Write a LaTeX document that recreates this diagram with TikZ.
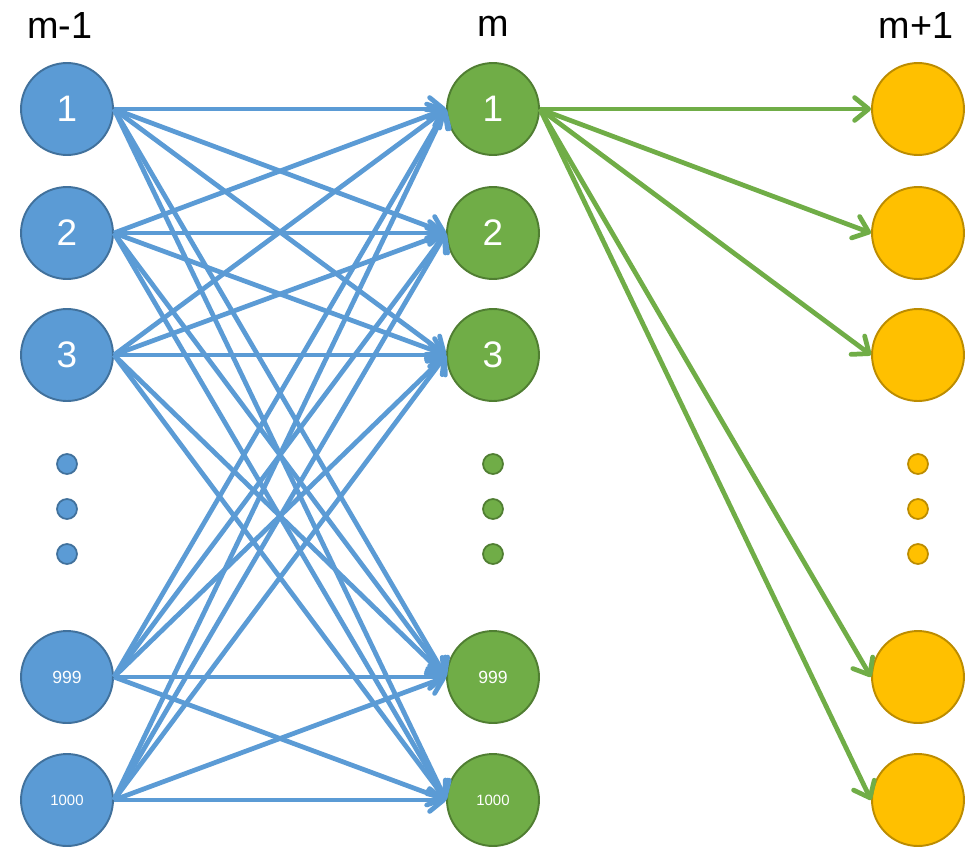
\documentclass[tikz,border=0pt]{standalone}
\usepackage{fontspec}
\setmainfont{Liberation Sans}
\usetikzlibrary{arrows.meta}

\definecolor{blueFill}{HTML}{5B9BD5}
\definecolor{blueLine}{HTML}{41719C}
\definecolor{greenFill}{HTML}{70AD47}
\definecolor{greenLine}{HTML}{507E32}
\definecolor{goldFill}{HTML}{FFC000}
\definecolor{goldLine}{HTML}{BC8C00}

\tikzset{
  neuron/.style={circle, inner sep=0pt, minimum size=1.84cm, line width=1.1pt, text=white, font=\fontsize{21}{24}\selectfont},
  bluen/.style={neuron, draw=blueLine, fill=blueFill},
  greenn/.style={neuron, draw=greenLine, fill=greenFill},
  goldn/.style={neuron, draw=goldLine, fill=goldFill},
  dotn/.style={circle, inner sep=0pt, minimum size=0.4cm, line width=1pt},
  bigno/.style={font=\fontsize{10}{12}\selectfont},
  smallno/.style={font=\fontsize{8.5}{10}\selectfont},
  layer/.style={font=\fontsize{21.5}{25}\selectfont},
  bluearr/.style={draw=blueFill, line width=2.7pt, -{Straight Barb[round,length=8pt,width=13pt]}},
  greenarr/.style={draw=greenFill, line width=2.7pt, -{Straight Barb[round,length=8pt,width=13pt]}}
}

\begin{document}
\begin{tikzpicture}[x=0.02cm, y=-0.02cm]
\useasboundingbox (0,0) rectangle (975,856);

% layer titles
\node[layer] (tl) at (60,26) {m-1};
\node[layer] (tm) at (493,26) {m};
\node[layer] (tr) at (916,26) {m+1};

% layer m-1
\node[bluen] (l1) at (67,109) {1};
\node[bluen] (l2) at (67,233) {2};
\node[bluen] (l3) at (67,355) {3};
\node[dotn, draw=blueLine, fill=blueFill] (ld1) at (67,464) {};
\node[dotn, draw=blueLine, fill=blueFill] (ld2) at (67,509) {};
\node[dotn, draw=blueLine, fill=blueFill] (ld3) at (67,554) {};
\node[bluen, bigno] (l999) at (67,677) {999};
\node[bluen, smallno] (l1000) at (67,800) {1000};

% layer m
\node[greenn] (m1) at (493,109) {1};
\node[greenn] (m2) at (493,233) {2};
\node[greenn] (m3) at (493,355) {3};
\node[dotn, draw=greenLine, fill=greenFill] (md1) at (493,464) {};
\node[dotn, draw=greenLine, fill=greenFill] (md2) at (493,509) {};
\node[dotn, draw=greenLine, fill=greenFill] (md3) at (493,554) {};
\node[greenn, bigno] (m999) at (493,677) {999};
\node[greenn, smallno] (m1000) at (493,800) {1000};

% layer m+1
\node[goldn] (r1) at (918,109) {};
\node[goldn] (r2) at (918,233) {};
\node[goldn] (r3) at (918,355) {};
\node[dotn, draw=goldLine, fill=goldFill] (rd1) at (918,464) {};
\node[dotn, draw=goldLine, fill=goldFill] (rd2) at (918,509) {};
\node[dotn, draw=goldLine, fill=goldFill] (rd3) at (918,554) {};
\node[goldn] (r999) at (918,677) {};
\node[goldn] (r1000) at (918,800) {};

% m-1 to m
\draw[bluearr] (l1.east) -- (m1.west);
\draw[bluearr] (l1.east) -- (m2.west);
\draw[bluearr] (l1.east) -- (m3.west);
\draw[bluearr] (l1.east) -- (m999.west);
\draw[bluearr] (l1.east) -- (m1000.west);
\draw[bluearr] (l2.east) -- (m1.west);
\draw[bluearr] (l2.east) -- (m2.west);
\draw[bluearr] (l2.east) -- (m3.west);
\draw[bluearr] (l2.east) -- (m999.west);
\draw[bluearr] (l2.east) -- (m1000.west);
\draw[bluearr] (l3.east) -- (m1.west);
\draw[bluearr] (l3.east) -- (m2.west);
\draw[bluearr] (l3.east) -- (m3.west);
\draw[bluearr] (l3.east) -- (m999.west);
\draw[bluearr] (l3.east) -- (m1000.west);
\draw[bluearr] (l999.east) -- (m1.west);
\draw[bluearr] (l999.east) -- (m2.west);
\draw[bluearr] (l999.east) -- (m3.west);
\draw[bluearr] (l999.east) -- (m999.west);
\draw[bluearr] (l999.east) -- (m1000.west);
\draw[bluearr] (l1000.east) -- (m1.west);
\draw[bluearr] (l1000.east) -- (m2.west);
\draw[bluearr] (l1000.east) -- (m3.west);
\draw[bluearr] (l1000.east) -- (m999.west);
\draw[bluearr] (l1000.east) -- (m1000.west);

% m to m+1
\draw[greenarr] (m1.east) -- (r1.west);
\draw[greenarr] (m1.east) -- (r2.west);
\draw[greenarr] (m1.east) -- (r3.west);
\draw[greenarr] (m1.east) -- (r999.west);
\draw[greenarr] (m1.east) -- (r1000.west);
\end{tikzpicture}
\end{document}
